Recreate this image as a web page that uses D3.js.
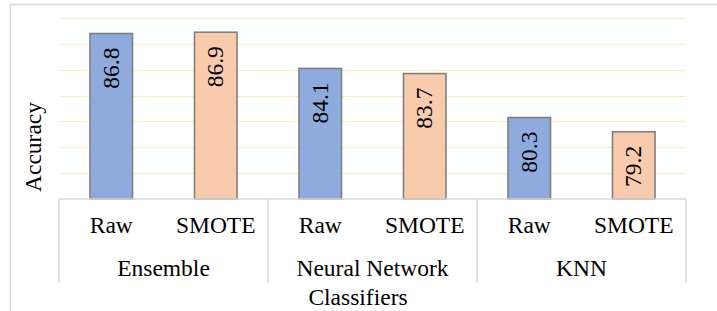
<!DOCTYPE html>
<html>
<head>
<meta charset="utf-8">
<script src="https://cdn.jsdelivr.net/npm/d3@7"></script>
<style>
  html, body { margin: 0; padding: 0; background: #fff; }
  svg { display: block; font-family: "Liberation Serif", "Times New Roman", serif; }
</style>
</head>
<body>
<div id="chart"></div>
<script>
// chart data
const classifiers = ["Ensemble", "Neural Network", "KNN"];
const variants = ["Raw", "SMOTE"];
const rawAccuracy = [86.8, 84.1, 80.3];
const smoteAccuracy = [86.9, 83.7, 79.2];
const yDomain = [74, 88];
const gridTicks = [76, 78, 80, 82, 84, 86, 88];
const yTitle = "Accuracy";
const xTitle = "Classifiers";

const WIDTH = 717;
const HEIGHT = 311;
const FONT_SIZE = 23.5;
const BAR_RATIO = 0.407;
const COLORS = { Raw: "#8FAADC", SMOTE: "#F8CBAD" };

const plot = { left: 59, right: 686, top: 18, bottom: 199 };

// flat rows: one per bar
const rows = [];
classifiers.forEach((c, i) => {
	rows.push({ key: c + "|Raw", classifier: c, variant: variants[0], value: rawAccuracy[i] });
	rows.push({ key: c + "|SMOTE", classifier: c, variant: variants[1], value: smoteAccuracy[i] });
});

const svg = d3.select("#chart").append("svg")
	.attr("width", WIDTH)
	.attr("height", HEIGHT);

// outer chart border (cropped on the right and bottom)
svg.append("path")
	.attr("d", `M10.5 ${HEIGHT + 2} L10.5 4.5 L${WIDTH + 2} 4.5`)
	.attr("fill", "none")
	.attr("stroke", "#d9d9d9")
	.attr("stroke-width", 1.5);

const x = d3.scaleBand()
	.domain(rows.map(d => d.key))
	.range([plot.left, plot.right])
	.padding(0);

const xGroup = d3.scaleBand()
	.domain(classifiers)
	.range([plot.left, plot.right])
	.padding(0);

const y = d3.scaleLinear()
	.domain(yDomain)
	.range([plot.bottom, plot.top]);

// gridlines
svg.append("g")
	.selectAll("line")
	.data(gridTicks)
	.enter()
	.append("line")
	.attr("x1", plot.left)
	.attr("x2", plot.right)
	.attr("y1", d => Math.round(y(d)) + 0.5)
	.attr("y2", d => Math.round(y(d)) + 0.5)
	.attr("stroke", "#FDEBB8")
	.attr("stroke-width", 1.2);

const barW = x.bandwidth() * BAR_RATIO;

const bars = svg.append("g")
	.selectAll("g")
	.data(rows)
	.enter()
	.append("g");

bars.append("rect")
	.attr("x", d => x(d.key) + (x.bandwidth() - barW) / 2)
	.attr("width", barW)
	.attr("y", d => y(d.value))
	.attr("height", d => y(yDomain[0]) - y(d.value))
	.attr("fill", d => COLORS[d.variant])
	.attr("stroke", "#808080")
	.attr("stroke-width", 1.6);

// value labels, rotated, inside end of bar
bars.append("text")
	.attr("transform", d => {
		const cx = x(d.key) + x.bandwidth() / 2 + 7.5;
		const cy = y(d.value) + 14;
		return `translate(${cx},${cy}) rotate(-90)`;
	})
	.attr("text-anchor", "end")
	.attr("font-size", FONT_SIZE)
	.attr("fill", "#000")
	.text(d => d.value.toFixed(1));

// category axis: baseline and separators
const axisG = svg.append("g")
	.attr("stroke", "#d9d9d9")
	.attr("stroke-width", 1.5);

axisG.append("line")
	.attr("x1", plot.left)
	.attr("x2", plot.right)
	.attr("y1", plot.bottom)
	.attr("y2", plot.bottom);

const sepX = classifiers.map(c => xGroup(c)).concat([plot.right]);
axisG.selectAll(".sep")
	.data(sepX)
	.enter()
	.append("line")
	.attr("class", "sep")
	.attr("x1", d => d)
	.attr("x2", d => d)
	.attr("y1", plot.bottom)
	.attr("y2", 283);

// variant labels
svg.append("g")
	.selectAll("text")
	.data(rows)
	.enter()
	.append("text")
	.attr("x", d => x(d.key) + x.bandwidth() / 2)
	.attr("y", 233)
	.attr("text-anchor", "middle")
	.attr("font-size", FONT_SIZE)
	.text(d => d.variant);

// classifier labels
svg.append("g")
	.selectAll("text")
	.data(classifiers)
	.enter()
	.append("text")
	.attr("x", d => xGroup(d) + xGroup.bandwidth() / 2)
	.attr("y", 276)
	.attr("text-anchor", "middle")
	.attr("font-size", FONT_SIZE)
	.text(d => d);

// axis titles
svg.append("text")
	.attr("x", 358)
	.attr("y", 305)
	.attr("text-anchor", "middle")
	.attr("font-size", FONT_SIZE)
	.text(xTitle);

svg.append("text")
	.attr("transform", "translate(41,147) rotate(-90)")
	.attr("text-anchor", "middle")
	.attr("font-size", FONT_SIZE)
	.text(yTitle);
</script>
</body>
</html>
